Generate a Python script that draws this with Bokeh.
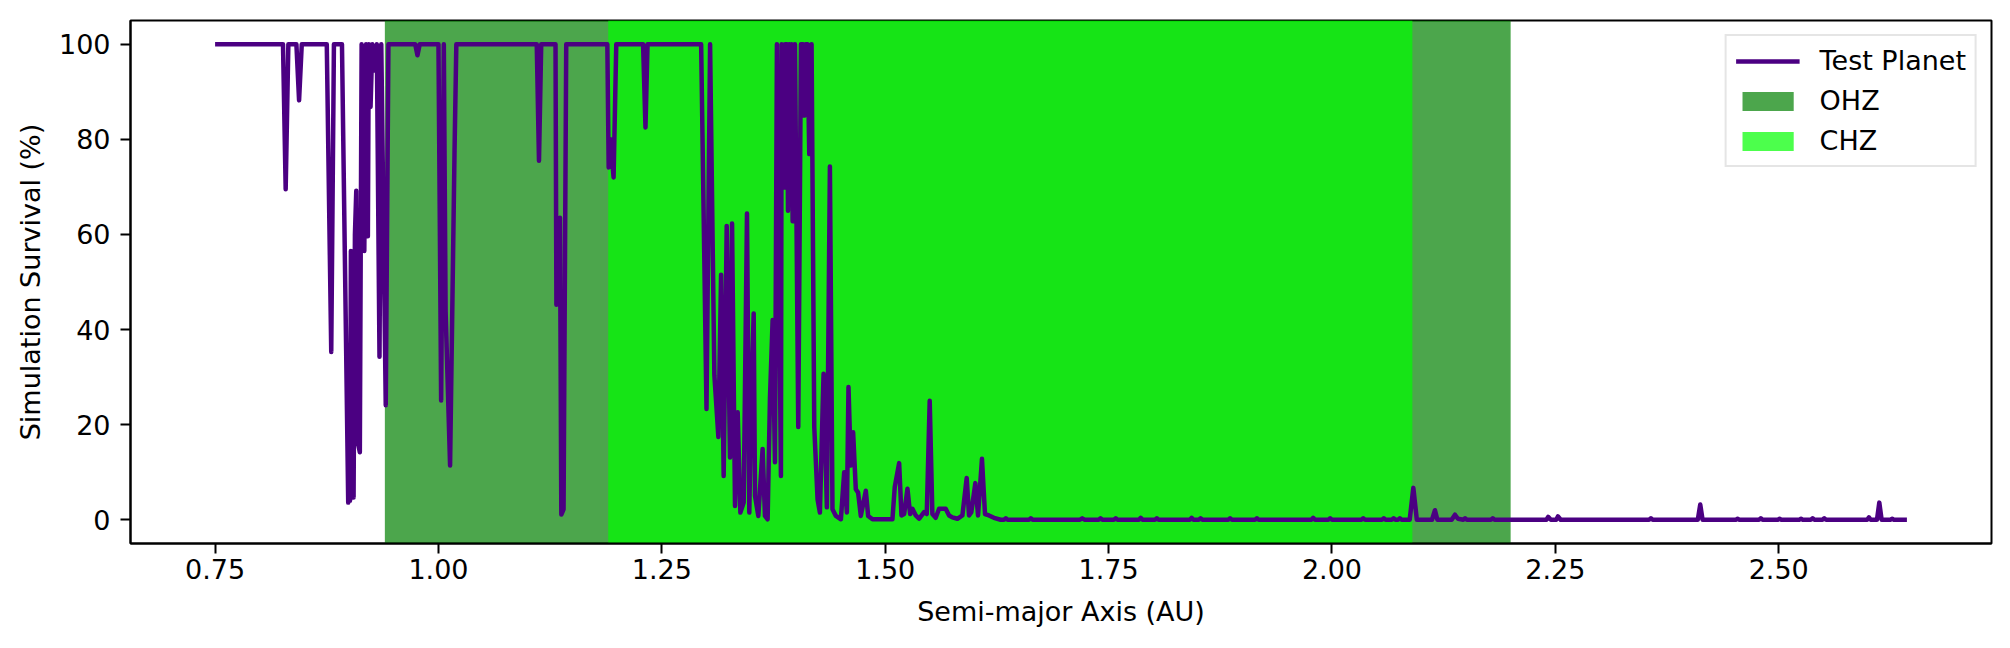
from bokeh.plotting import figure
from bokeh.models import Range1d, FixedTicker, Legend, LegendItem, PrintfTickFormatter
from bokeh.embed import file_html
from bokeh.resources import INLINE

# ---------------- data ----------------
semi_major_axis = [
    0.750, 0.826, 0.829, 0.832, 0.841, 0.844, 0.847, 0.875, 0.880, 0.883,
    0.892, 0.899, 0.9005, 0.901, 0.902, 0.9030, 0.9035, 0.905, 0.9065, 0.908,
    0.910, 0.912, 0.914, 0.917, 0.919, 0.921, 0.922, 0.924, 0.926, 0.928,
    0.931, 0.934, 0.936, 0.941, 0.944, 0.974, 0.9765, 0.979, 1.000, 1.003,
    1.006, 1.008, 1.013, 1.018, 1.020, 1.110, 1.1125, 1.115, 1.131, 1.132,
    1.136, 1.1375, 1.140, 1.143, 1.189, 1.1905, 1.1925, 1.196, 1.199, 1.229,
    1.2317, 1.234, 1.294, 1.300, 1.304, 1.3088, 1.3133, 1.3163, 1.3192, 1.3226,
    1.3263, 1.3286, 1.3319, 1.3349, 1.3379, 1.3416, 1.3453, 1.3479, 1.3498, 1.3528,
    1.3543, 1.3580, 1.3628, 1.3654, 1.3684, 1.3710, 1.3740, 1.3766, 1.3788, 1.3833,
    1.3841, 1.3870, 1.3880, 1.3889, 1.3900, 1.3912, 1.3926, 1.3940, 1.3952, 1.3964,
    1.3990, 1.4027, 1.4057, 1.4080, 1.4095, 1.4110, 1.4131, 1.4150, 1.4176, 1.4206,
    1.4243, 1.4269, 1.4310, 1.4347, 1.4381, 1.4410, 1.4448, 1.4504, 1.4541, 1.4571,
    1.4589, 1.4615, 1.4641, 1.4671, 1.4697, 1.4727, 1.4783, 1.4809, 1.4858, 1.5081,
    1.5107, 1.5156, 1.5182, 1.5212, 1.5249, 1.5279, 1.5305, 1.5342, 1.5379, 1.5435,
    1.5465, 1.5498, 1.5528, 1.5565, 1.5603, 1.5640, 1.5677, 1.5715, 1.5752, 1.5808,
    1.5864, 1.5912, 1.5938, 1.5964, 1.6009, 1.6039, 1.6083, 1.6117, 1.6161, 1.6217,
    1.6292, 1.633, 1.635, 1.637, 1.661, 1.663, 1.665, 1.718, 1.7205, 1.723,
    1.739, 1.741, 1.743, 1.756, 1.758, 1.760, 1.784, 1.786, 1.788, 1.802,
    1.804, 1.806, 1.841, 1.843, 1.845, 1.851, 1.853, 1.855, 1.884, 1.886,
    1.888, 1.914, 1.916, 1.918, 1.977, 1.979, 1.981, 1.996, 1.998, 2.000,
    2.033, 2.035, 2.037, 2.056, 2.058, 2.060, 2.067, 2.069, 2.071, 2.074,
    2.076, 2.078, 2.087, 2.0911, 2.095, 2.112, 2.1153, 2.118, 2.134, 2.1377,
    2.141, 2.147, 2.149, 2.151, 2.178, 2.180, 2.182, 2.240, 2.242, 2.245,
    2.251, 2.253, 2.256, 2.355, 2.357, 2.359, 2.4095, 2.4122, 2.4148, 2.452,
    2.454, 2.456, 2.478, 2.480, 2.482, 2.499, 2.501, 2.503, 2.523, 2.525,
    2.527, 2.536, 2.538, 2.540, 2.549, 2.551, 2.553, 2.599, 2.601, 2.603,
    2.6100, 2.6126, 2.6152, 2.625, 2.627, 2.629, 2.6435,
]
survival_pct = [
    100, 100, 69.5, 100, 100, 88.2, 100, 100, 35.3, 100,
    100, 3.6, 27.5, 4.0, 56.5, 8.0, 50.0, 4.7, 60.0, 69.2,
    16.0, 14.2, 100, 56.5, 100, 59.6, 100, 86.8, 100, 94.5,
    100, 34.3, 100, 24.1, 100, 100, 97.7, 100, 100, 25.1,
    100, 43.8, 11.4, 77.6, 100, 100, 75.5, 100, 100, 45.2,
    63.5, 1.1, 2.2, 100, 100, 74.1, 80.0, 72.0, 100, 100,
    82.5, 100, 100, 23.3, 100, 30.4, 17.4, 51.5, 9.2, 61.8,
    13.1, 62.3, 2.9, 22.6, 1.5, 3.6, 64.4, 1.5, 23.3, 43.4,
    5.0, 0.8, 14.9, 0.8, 0.1, 25.5, 42.0, 12.1, 100, 9.2,
    100, 69.9, 100, 72.0, 100, 65.0, 100, 70.0, 100, 62.8,
    100, 19.5, 100, 100, 85.0, 100, 100, 76.9, 100, 19.5,
    4.3, 1.5, 30.7, 2.6, 74.3, 2.2, 0.8, 0.1, 10.0, 1.5,
    27.9, 11.4, 18.4, 6.4, 5.7, 0.8, 6.1, 0.8, 0.1, 0.1,
    6.9, 11.9, 0.9, 1.2, 6.5, 1.2, 2.3, 0.9, 0.2, 1.6,
    1.2, 25.0, 1.2, 0.4, 2.3, 2.3, 2.3, 0.9, 0.5, 0.2,
    0.9, 8.8, 0.9, 1.6, 7.7, 0.9, 12.8, 1.2, 0.9, 0.4,
    0.0, 0.0, 0.3, 0.0, 0.0, 0.3, 0.0, 0.0, 0.3, 0.0,
    0.0, 0.3, 0.0, 0.0, 0.3, 0.0, 0.0, 0.4, 0.0, 0.0,
    0.3, 0.0, 0.0, 0.4, 0.0, 0.0, 0.3, 0.0, 0.0, 0.3,
    0.0, 0.0, 0.3, 0.0, 0.0, 0.4, 0.0, 0.0, 0.3, 0.0,
    0.0, 0.3, 0.0, 0.0, 0.3, 0.0, 0.0, 0.3, 0.0, 0.0,
    0.3, 0.0, 0.0, 6.7, 0.0, 0.0, 2.0, 0.0, 0.0, 1.05,
    0.2, 0.0, 0.3, 0.0, 0.0, 0.3, 0.0, 0.0, 0.6, 0.0,
    0.0, 0.7, 0.0, 0.0, 0.3, 0.0, 0.0, 3.2, 0.0, 0.0,
    0.2, 0.0, 0.0, 0.3, 0.0, 0.0, 0.2, 0.0, 0.0, 0.2,
    0.0, 0.0, 0.3, 0.0, 0.0, 0.3, 0.0, 0.0, 0.5, 0.0,
    0.0, 3.6, 0.0, 0.0, 0.2, 0.0, 0.0,
]

zone_names = ["OHZ", "CHZ"]
zone_inner_au = [0.94, 1.19]
zone_outer_au = [2.20, 2.09]
zone_colors = ["#008000", "#00ff00"]

x_ticks = [0.75, 1.00, 1.25, 1.50, 1.75, 2.00, 2.25, 2.50]
y_ticks = [0, 20, 40, 60, 80, 100]

series_name = "Test Planet"
x_title = "Semi-major Axis (AU)"
y_title = "Simulation Survival (%)"

# ---------------- figure ----------------
xmin, xmax = min(semi_major_axis), max(semi_major_axis)
ymin, ymax = min(survival_pct), max(survival_pct)
xpad = 0.05 * (xmax - xmin)
ypad = 0.05 * (ymax - ymin)

FONT = "DejaVu Sans"
FS = "27px"

p = figure(width=1994, height=632, output_backend="svg", toolbar_location=None,
           x_range=Range1d(xmin - xpad, xmax + xpad),
           y_range=Range1d(ymin - ypad, ymax + ypad),
           min_border_left=130, min_border_right=3,
           min_border_top=20, min_border_bottom=89)

zone_renderers = []
for i in range(len(zone_names)):
    r = p.quad(left=[zone_inner_au[i]], right=[zone_outer_au[i]],
               bottom=[ymin - ypad], top=[ymax + ypad],
               fill_color=zone_colors[i], fill_alpha=0.7, line_color=None)
    zone_renderers.append(r)

line_r = p.line(semi_major_axis, survival_pct, line_color="#4B0082",
                line_width=4.5, line_join="round")

p.xgrid.visible = False
p.ygrid.visible = False
p.outline_line_color = "black"
p.outline_line_width = 2
p.outline_line_alpha = 1.0
p.background_fill_color = "white"
p.border_fill_color = "white"

p.xaxis.ticker = FixedTicker(ticks=x_ticks)
p.yaxis.ticker = FixedTicker(ticks=y_ticks)
p.xaxis.formatter = PrintfTickFormatter(format="%.2f")
p.xaxis.axis_label = x_title
p.yaxis.axis_label = y_title

for ax in (p.xaxis[0], p.yaxis[0]):
    ax.major_label_text_font = FONT
    ax.major_label_text_font_size = FS
    ax.major_label_text_color = "black"
    ax.axis_label_text_font = FONT
    ax.axis_label_text_font_size = FS
    ax.axis_label_text_font_style = "normal"
    ax.axis_label_text_color = "black"
    ax.major_tick_out = 10
    ax.major_tick_in = 0
    ax.minor_tick_out = 0
    ax.minor_tick_in = 0
    ax.major_tick_line_width = 2
    ax.major_tick_line_color = "black"
    ax.axis_line_width = 2
    ax.axis_line_color = "black"

p.xaxis.major_label_standoff = 5
p.xaxis.axis_label_standoff = 14
p.yaxis.major_label_standoff = 10
p.yaxis.axis_label_standoff = 10

legend = Legend(items=[
    LegendItem(label=series_name, renderers=[line_r]),
    LegendItem(label=zone_names[0], renderers=[zone_renderers[0]]),
    LegendItem(label=zone_names[1], renderers=[zone_renderers[1]]),
], location="top_right")
legend.margin = 14
legend.padding = 9
legend.spacing = 9
legend.glyph_width = 64
legend.glyph_height = 24
legend.label_height = 30
legend.label_standoff = 20
legend.label_text_font = FONT
legend.label_text_font_size = FS
legend.label_text_color = "black"
legend.border_line_color = "#cccccc"
legend.border_line_width = 2
legend.background_fill_color = "white"
legend.background_fill_alpha = 0.8
p.add_layout(legend)

open("out.html", "w").write(file_html(p, INLINE))
